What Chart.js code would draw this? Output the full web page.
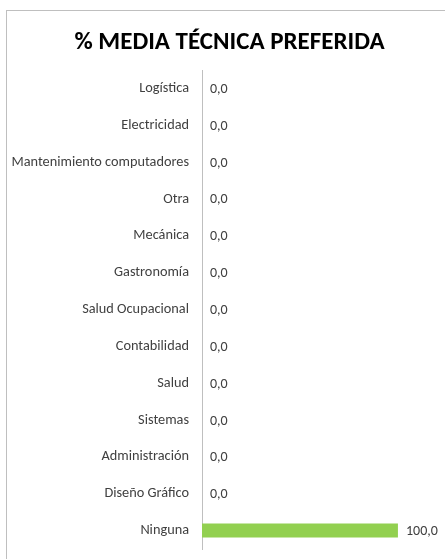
<!DOCTYPE html>
<html>
<head>
<meta charset="utf-8">
<script src="https://cdn.jsdelivr.net/npm/chart.js@4"></script>
<style>
  html, body { margin: 0; padding: 0; background: #fff; overflow: hidden; }
  #box {
    position: absolute; left: 6px; top: 10px;
    width: 460px; height: 570px;
    border-left: 1px solid #bfbfbf; border-top: 1px solid #bfbfbf;
    box-sizing: border-box;
  }
  #box canvas { display: block; margin-left: 1px; }
</style>
</head>
<body>
<div id="box"><canvas id="chart_media" width="435" height="546"></canvas></div>
<script>
const categorias = ['Logística', 'Electricidad', 'Mantenimiento computadores', 'Otra', 'Mecánica',
    'Gastronomía', 'Salud Ocupacional', 'Contabilidad', 'Salud', 'Sistemas',
    'Administración', 'Diseño Gráfico', 'Ninguna'];
const porcentajes = [0, 0, 0, 0, 0, 0, 0, 0, 0, 0, 0, 0, 100];
const tituloGrafico = '% MEDIA TÉCNICA PREFERIDA';

const fuente = "Carlito, Lato, 'Open Sans', sans-serif";

// etiquetas de valor al final de cada barra (formato 0,0)
const etiquetasValor = {
    id: 'etiquetasValor',
    afterDatasetsDraw(chart) {
        const ctx = chart.ctx;
        const meta = chart.getDatasetMeta(0);
        ctx.save();
        ctx.font = '14px ' + fuente;
        ctx.fillStyle = '#404040';
        ctx.textAlign = 'left';
        ctx.textBaseline = 'middle';
        meta.data.forEach((bar, i) => {
            const txt = porcentajes[i].toFixed(1).replace('.', ',');
            ctx.fillText(txt, bar.x + 8, bar.y + 1);
        });
        ctx.restore();
    }
};

const ctx = document.getElementById('chart_media').getContext('2d');
new Chart(ctx, {
    type: 'bar',
    data: {
        labels: categorias,
        datasets: [{
            data: porcentajes,
            backgroundColor: '#92d050',
            borderWidth: 0,
            barPercentage: 0.76,
            categoryPercentage: 0.5
        }]
    },
    options: {
        indexAxis: 'y',
        responsive: false,
        animation: false,
        layout: { padding: { left: 8, right: 0, top: 0, bottom: 8 } },
        scales: {
            x: { display: false, min: 0, max: 123 },
            y: {
                grid: { display: false, drawTicks: false },
                border: { display: true, color: '#bfbfbf', width: 1 },
                ticks: {
                    color: '#404040',
                    font: { family: fuente, size: 14.3 },
                    padding: 13
                },
                afterFit(scale) {
                    scale.width = 186;
                    // sin margen extra arriba/abajo por las etiquetas
                    scale.paddingTop = 0;
                    scale.paddingBottom = 0;
                    // no recortar la etiqueta larga en el borde izquierdo
                    scale._computeLabelArea = () => undefined;
                }
            }
        },
        plugins: {
            legend: { display: false },
            tooltip: { enabled: false },
            title: {
                display: true,
                text: tituloGrafico,
                color: '#000',
                font: { family: fuente, size: 25, weight: 'bold' },
                padding: { top: 17, bottom: 12 }
            }
        }
    },
    plugins: [etiquetasValor]
});
</script>
</body>
</html>
